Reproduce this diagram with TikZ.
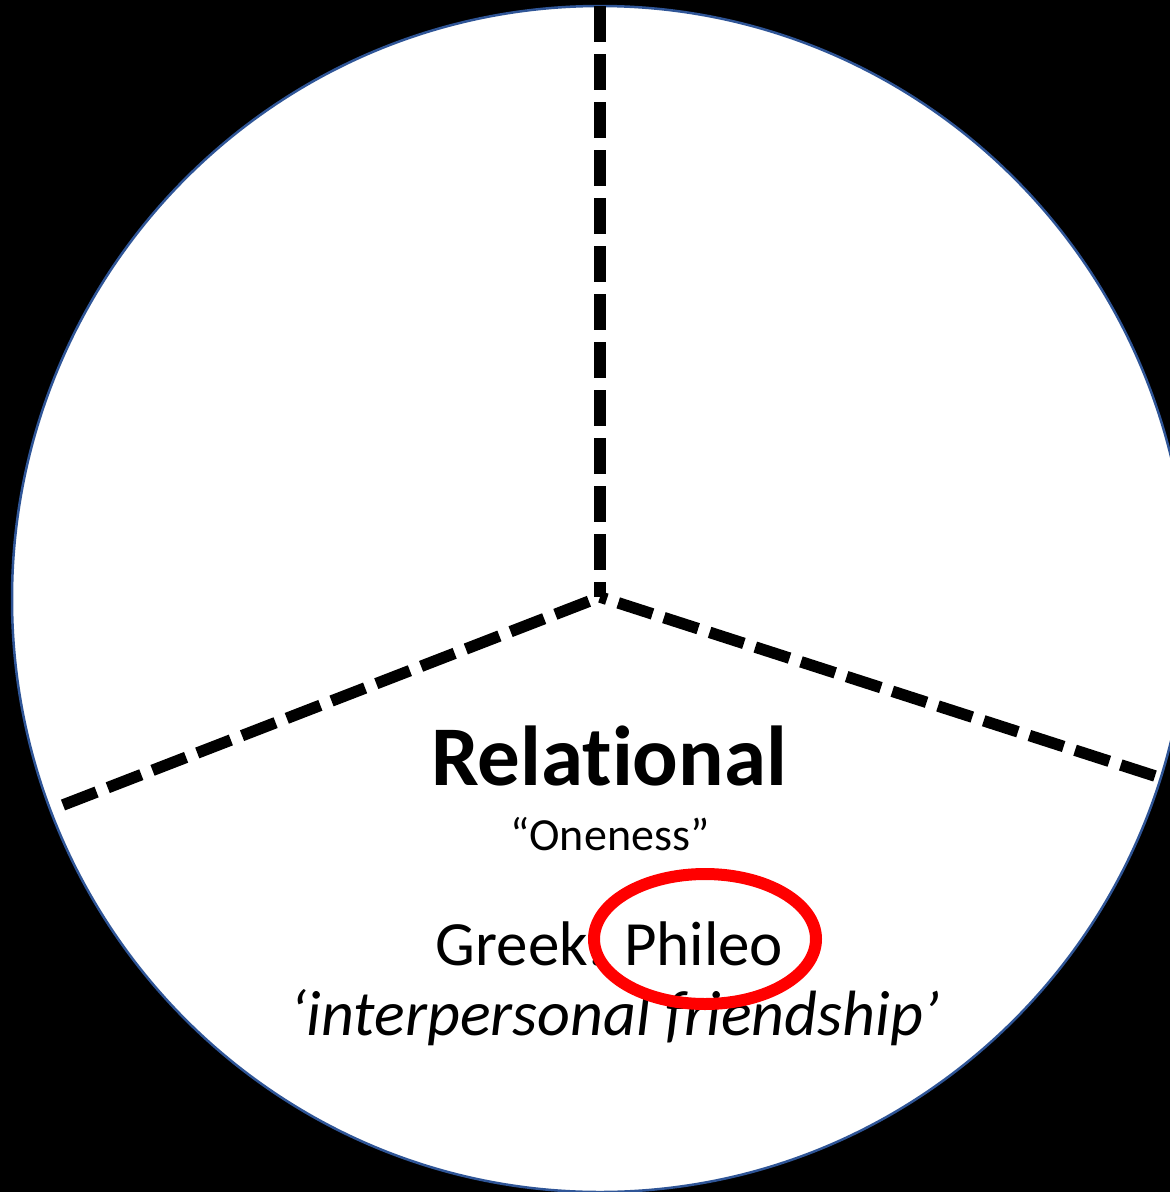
\documentclass[tikz,border=0pt]{standalone}
\usepackage{fontspec}
\setmainfont{Carlito}[Ligatures={NoCommon}]
\begin{document}
\begin{tikzpicture}[x=1pt,y=-1pt,
  divider/.style={line width=11.5pt, dash pattern=on 36pt off 12pt, black},
  lbl/.style={anchor=base, inner sep=0pt, text=black}]
\useasboundingbox (0,0) rectangle (1170,1192);
\fill[black] (0,0) rectangle (1170,1192);
\filldraw[fill=white, draw={rgb,255:red,47;green,85;blue,151}, line width=2.5pt]
  (600,599) ellipse [x radius=588, y radius=593];
\coordinate (c) at (600,597);
\coordinate (top) at (600,6);
\coordinate (left) at (63,805);
\coordinate (right) at (1155,776);
\draw[divider] (top) -- (c);
\draw[divider] (left) -- (c);
\draw[divider] (right) -- (c);
\node[lbl, font=\fontsize{85}{90}\selectfont\bfseries] (rel) at (609,785) {Relational};
\node[lbl, font=\fontsize{46}{50}\selectfont] (one) at (610,850) {“Oneness”};
\node[lbl, font=\fontsize{63}{68}\selectfont] (greek) at (609.5,965) {Greek: Phileo};
\node[lbl, font=\fontsize{64}{68}\selectfont\itshape] (inter) at (615,1035) {‘interpersonal friendship’};
\draw[red, line width=12pt] (705,939) ellipse [x radius=111, y radius=65];
\end{tikzpicture}
\end{document}
